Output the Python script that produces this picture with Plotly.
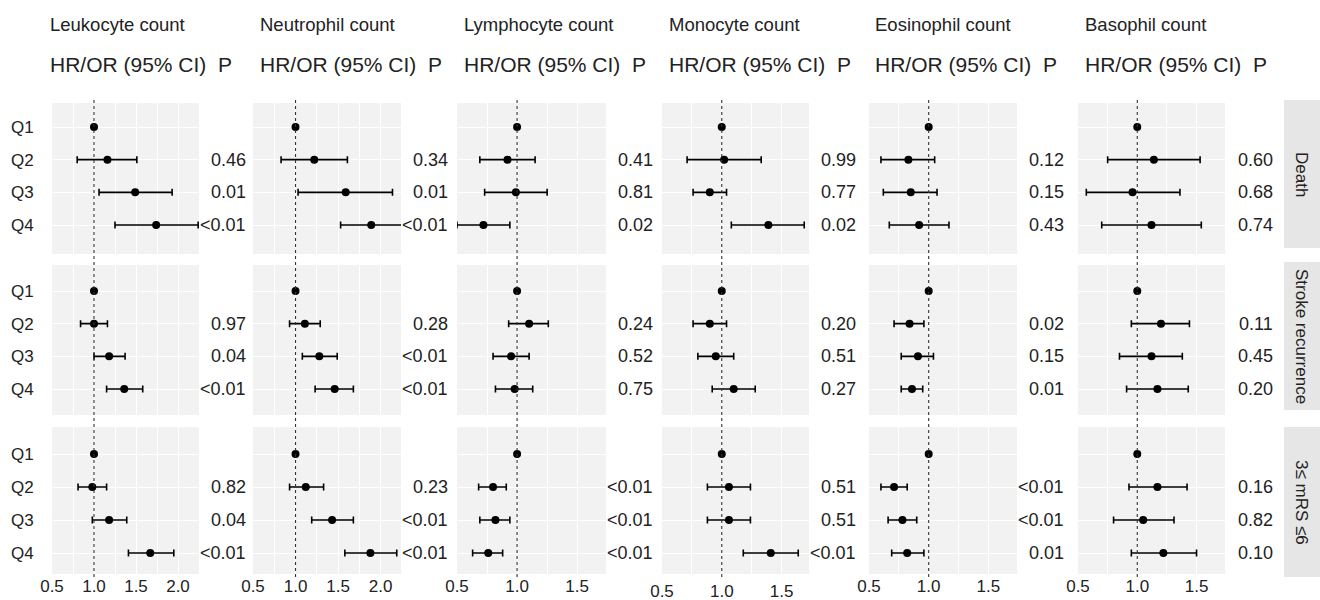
import plotly.graph_objects as go

# ---------------- data ----------------
quartiles = ["Q1", "Q2", "Q3", "Q4"]
outcomes = ["Death", "Stroke recurrence", "3\u2264 mRS \u22646"]
cell_types = ["Leukocyte count", "Neutrophil count", "Lymphocyte count",
              "Monocyte count", "Eosinophil count", "Basophil count"]

# rows: Death, Stroke recurrence, 3<=mRS<=6 ; columns: Q1..Q4
leuko_est = [[1.0, 1.16, 1.49, 1.74], [1.0, 1.00, 1.18, 1.36], [1.0, 0.98, 1.18, 1.67]]
leuko_lo = [[None, 0.80, 1.06, 1.25], [None, 0.84, 1.00, 1.15], [None, 0.81, 0.98, 1.41]]
leuko_hi = [[None, 1.51, 1.93, 2.24], [None, 1.16, 1.37, 1.58], [None, 1.15, 1.39, 1.95]]
leuko_p = [["0.46", "0.01", "<0.01"], ["0.97", "0.04", "<0.01"], ["0.82", "0.04", "<0.01"]]

neut_est = [[1.0, 1.22, 1.59, 1.89], [1.0, 1.11, 1.28, 1.46], [1.0, 1.12, 1.43, 1.88]]
neut_lo = [[None, 0.83, 1.03, 1.53], [None, 0.93, 1.08, 1.23], [None, 0.93, 1.19, 1.58]]
neut_hi = [[None, 1.61, 2.14, 2.28], [None, 1.29, 1.49, 1.68], [None, 1.33, 1.68, 2.19]]
neut_p = [["0.34", "0.01", "<0.01"], ["0.28", "<0.01", "<0.01"], ["0.23", "<0.01", "<0.01"]]

lymph_est = [[1.0, 0.92, 0.99, 0.72], [1.0, 1.10, 0.95, 0.98], [1.0, 0.80, 0.82, 0.76]]
lymph_lo = [[None, 0.69, 0.73, 0.50], [None, 0.93, 0.80, 0.82], [None, 0.68, 0.69, 0.63]]
lymph_hi = [[None, 1.15, 1.25, 0.94], [None, 1.26, 1.10, 1.13], [None, 0.91, 0.94, 0.88]]
lymph_p = [["0.41", "0.81", "0.02"], ["0.24", "0.52", "0.75"], ["<0.01", "<0.01", "<0.01"]]

mono_est = [[1.0, 1.02, 0.90, 1.39], [1.0, 0.90, 0.95, 1.10], [1.0, 1.06, 1.06, 1.41]]
mono_lo = [[None, 0.71, 0.76, 1.08], [None, 0.76, 0.80, 0.92], [None, 0.88, 0.88, 1.18]]
mono_hi = [[None, 1.33, 1.04, 1.69], [None, 1.04, 1.10, 1.28], [None, 1.24, 1.24, 1.64]]
mono_p = [["0.99", "0.77", "0.02"], ["0.20", "0.51", "0.27"], ["0.51", "0.51", "<0.01"]]

eos_est = [[1.0, 0.83, 0.85, 0.92], [1.0, 0.84, 0.91, 0.86], [1.0, 0.71, 0.78, 0.82]]
eos_lo = [[None, 0.60, 0.62, 0.67], [None, 0.71, 0.77, 0.77], [None, 0.60, 0.66, 0.69]]
eos_hi = [[None, 1.05, 1.07, 1.17], [None, 0.96, 1.04, 0.95], [None, 0.82, 0.90, 0.96]]
eos_p = [["0.12", "0.15", "0.43"], ["0.02", "0.15", "0.01"], ["<0.01", "<0.01", "0.01"]]

baso_est = [[1.0, 1.14, 0.96, 1.12], [1.0, 1.20, 1.12, 1.17], [1.0, 1.17, 1.05, 1.22]]
baso_lo = [[None, 0.75, 0.57, 0.70], [None, 0.95, 0.85, 0.91], [None, 0.93, 0.80, 0.95]]
baso_hi = [[None, 1.53, 1.36, 1.54], [None, 1.44, 1.38, 1.43], [None, 1.42, 1.31, 1.50]]
baso_p = [["0.60", "0.68", "0.74"], ["0.11", "0.45", "0.20"], ["0.16", "0.82", "0.10"]]

x_ticks_wide = [0.5, 1.0, 1.5, 2.0]
x_ticks_narrow = [0.5, 1.0, 1.5]

panels = [
    (leuko_est, leuko_lo, leuko_hi, leuko_p),
    (neut_est, neut_lo, neut_hi, neut_p),
    (lymph_est, lymph_lo, lymph_hi, lymph_p),
    (mono_est, mono_lo, mono_hi, mono_p),
    (eos_est, eos_lo, eos_hi, eos_p),
    (baso_est, baso_lo, baso_hi, baso_p),
]

# ---------------- layout constants ----------------
W, H = 1320, 600
FONT = "Liberation Sans, Arial, Helvetica, sans-serif"
TXT = "#222222"


def fx(p):
    return p / W


def fy(p):
    return 1 - p / H


col_px = [(52, 199), (253, 401), (457, 606), (662, 809), (869, 1017), (1078, 1225)]
col_range = [[0.5, 2.25], [0.5, 2.24], [0.5, 1.74], [0.5, 1.73], [0.5, 1.74], [0.5, 1.74]]
col_tick_sets = [x_ticks_wide, x_ticks_wide, x_ticks_narrow, x_ticks_narrow, x_ticks_narrow, x_ticks_narrow]
col_ticklen = [0, 0, 0, 2, 0, 0]
col_head_px = [48, 258, 462, 667, 873, 1083]
col_p_right = [248, 450, 655, 858, 1066, 1275]
# row: top, bottom, Q1 centre, Q4 centre (px)
row_px = [(103, 254, 127, 225), (265, 415, 291, 389), (427, 574, 454, 553)]
strip_px = [(100, 248), (262, 410), (427, 577)]

fig = go.Figure()
layout = {}
annotations = []
shapes = []

for r in range(3):
    top, bot, p1, p4 = row_px[r]
    unit = (p4 - p1) / 3.0
    yr = [3 + (bot - p4) / unit, -(p1 - top) / unit]
    for c in range(6):
        k = r * 6 + c + 1
        sx = "" if k == 1 else str(k)
        est, lo, hi, pv = panels[c]
        e = est[r]
        plus = [None if h is None else h - v for h, v in zip(hi[r], e)]
        minus = [None if l is None else v - l for l, v in zip(lo[r], e)]
        fig.add_trace(go.Scatter(
            x=e, y=quartiles, mode="markers",
            marker=dict(color="black", size=8),
            error_x=dict(type="data", symmetric=False, array=plus, arrayminus=minus,
                         color="black", thickness=1.6, width=3.5),
            xaxis="x" + sx, yaxis="y" + sx, showlegend=False,
            hoverinfo="x+y",
        ))
        ticks = col_tick_sets[c]
        minor_vals = [t + 0.25 for t in ticks]
        x0, x1 = col_px[c]
        layout["xaxis" + sx] = dict(
            domain=[fx(x0), fx(x1)], range=col_range[c], anchor="y" + sx,
            tickvals=ticks, ticktext=["%.1f" % t for t in ticks],
            showticklabels=(r == 2), ticks="outside" if (r == 2 and col_ticklen[c] > 0) else "",
            ticklen=max(col_ticklen[c], 1), tickcolor="rgba(0,0,0,0)",
            tickfont=dict(family=FONT, size=17, color=TXT),
            showgrid=True, gridcolor="white", gridwidth=1.3,
            minor=dict(tickvals=minor_vals, showgrid=True, gridcolor="white", gridwidth=0.7, ticks=""),
            zeroline=False, showline=False, fixedrange=True, automargin=False,
        )
        layout["yaxis" + sx] = dict(
            domain=[fy(bot), fy(top)], anchor="x" + sx,
            type="category", categoryorder="array", categoryarray=quartiles,
            range=yr, showticklabels=(c == 0),
            ticks="outside" if c == 0 else "", ticklen=14, tickcolor="rgba(0,0,0,0)",
            tickfont=dict(family=FONT, size=17, color=TXT),
            showgrid=True, gridcolor="white", gridwidth=1.3,
            zeroline=False, showline=False, fixedrange=True, automargin=False,
        )
        # P values
        for i, q in enumerate(quartiles[1:]):
            annotations.append(dict(
                x=fx(col_p_right[c]), xref="paper", xanchor="right",
                y=q, yref="y" + sx, yanchor="middle",
                text=pv[r][i], showarrow=False,
                font=dict(family=FONT, size=18, color=TXT),
            ))

# dotted reference lines at 1.0 across each column
for c in range(6):
    sx = "" if c == 0 else str(c + 1)
    shapes.append(dict(type="line", xref="x" + sx, yref="paper",
                       x0=1.0, x1=1.0, y0=fy(577), y1=fy(100),
                       line=dict(color="#333333", width=1.1, dash="dot"), layer="above"))

# column headers
for c in range(6):
    annotations.append(dict(x=fx(col_head_px[c]), xref="paper", xanchor="left",
                            y=fy(25), yref="paper", yanchor="middle",
                            text=cell_types[c], showarrow=False,
                            font=dict(family=FONT, size=18.5, color=TXT)))
    annotations.append(dict(x=fx(col_head_px[c]), xref="paper", xanchor="left",
                            y=fy(64), yref="paper", yanchor="middle",
                            text="HR/OR (95% CI)&nbsp;&nbsp;P", showarrow=False,
                            font=dict(family=FONT, size=21, color=TXT)))

# facet strips
for r in range(3):
    t, b = strip_px[r]
    shapes.append(dict(type="rect", xref="paper", yref="paper",
                       x0=fx(1284), x1=1.0, y0=fy(b), y1=fy(t),
                       fillcolor="#e6e6e6", line=dict(width=0), layer="below"))
    annotations.append(dict(x=fx(1302), xref="paper", xanchor="center",
                            y=fy((t + b) / 2), yref="paper", yanchor="middle",
                            text=outcomes[r], textangle=90, showarrow=False,
                            font=dict(family=FONT, size=17, color=TXT)))

fig.update_layout(
    width=W, height=H, margin=dict(l=0, r=0, t=0, b=0, autoexpand=False),
    paper_bgcolor="white", plot_bgcolor="#f2f2f2",
    annotations=annotations, shapes=shapes, showlegend=False,
    **layout,
)

fig.write_html("out.html")
